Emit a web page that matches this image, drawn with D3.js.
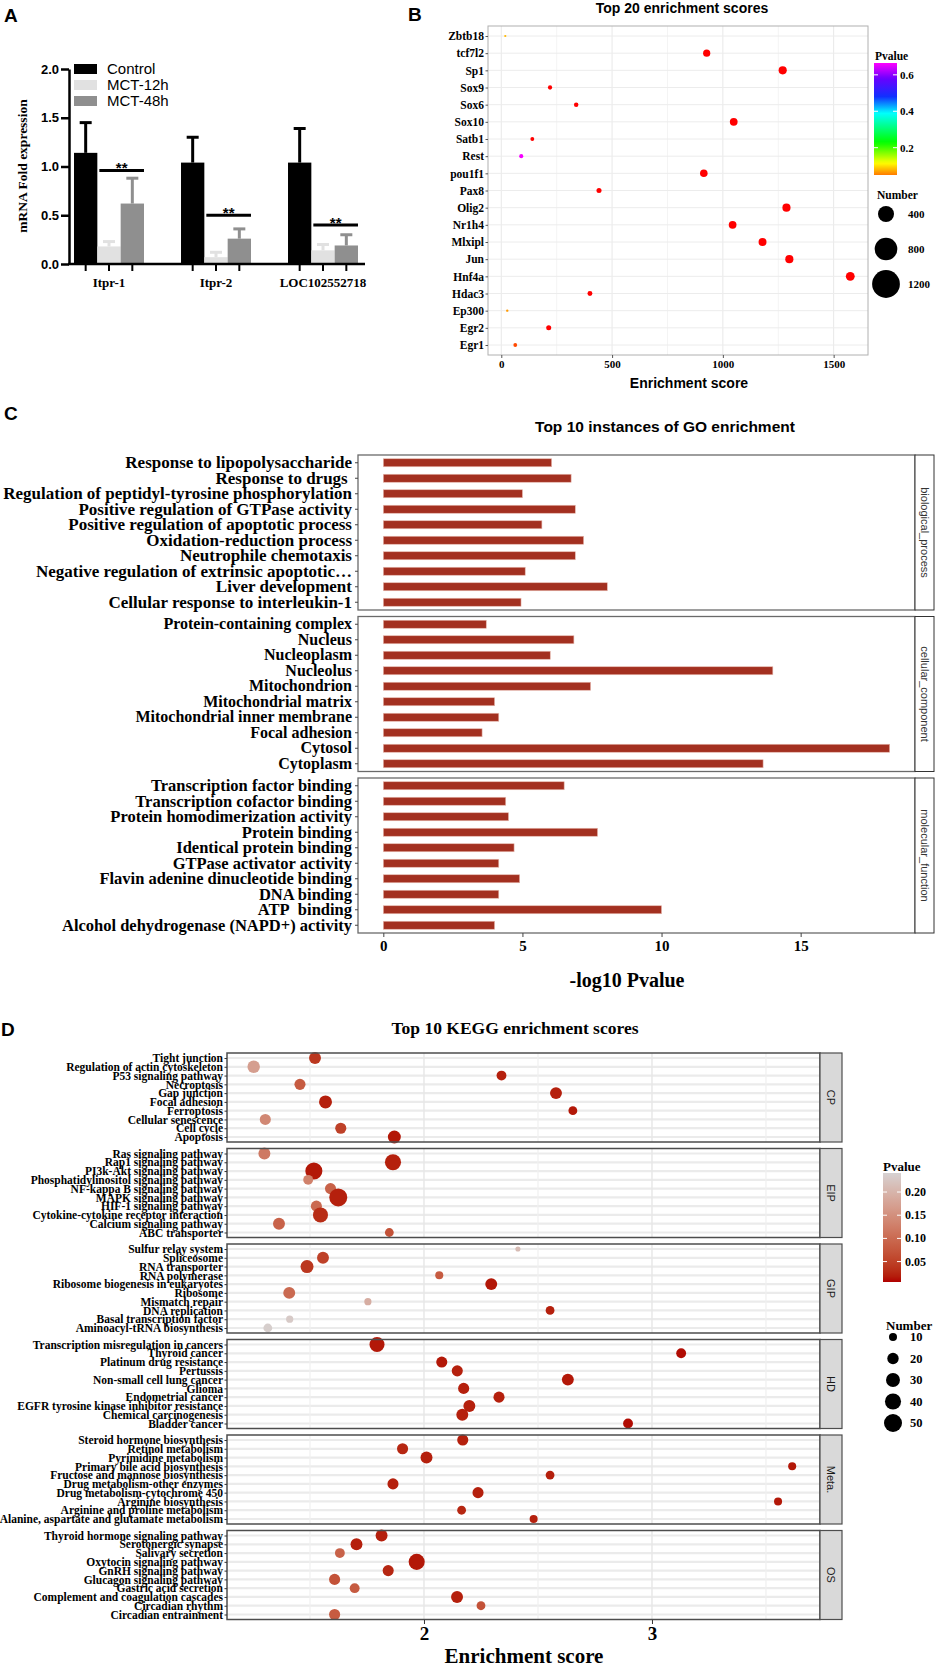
<!DOCTYPE html>
<html>
<head>
<meta charset="utf-8">
<script src="https://cdn.jsdelivr.net/npm/d3@7"></script>
<style>
  body { margin: 0; background: #fff; }
  svg { display: block; }
</style>
</head>
<body>
<svg id="fig" width="936" height="1669"></svg>
<script>
// ---------- panel A: qPCR bars
const aGenes = ["Itpr-1", "Itpr-2", "LOC102552718"];
const aGroups = ["Control", "MCT-12h", "MCT-48h"];
const aControl = [1.14, 1.04, 1.04];
const aControlSd = [0.31, 0.26, 0.35];
const a12h = [0.18, 0.07, 0.14];
const a12hSd = [0.05, 0.05, 0.06];
const a48h = [0.62, 0.26, 0.19];
const a48hSd = [0.26, 0.10, 0.11];
const aSigLevel = [0.96, 0.50, 0.40];
const aTicks = [0, 0.5, 1.0, 1.5, 2.0];

// ---------- panel B: TF enrichment
const tfNames = ["Zbtb18", "tcf7l2", "Sp1", "Sox9", "Sox6", "Sox10", "Satb1", "Rest", "pou1f1", "Pax8",
  "Olig2", "Nr1h4", "Mlxipl", "Jun", "Hnf4a", "Hdac3", "Ep300", "Egr2", "Egr1"];
const tfScore = [18, 927, 1270, 220, 338, 1049, 140, 90, 914, 441, 1287, 1044, 1179, 1300, 1575, 400, 27, 214, 63];
const tfPvalue = [0.08, 0, 0, 0, 0, 0, 0, 0.66, 0, 0, 0, 0, 0, 0, 0, 0, 0.065, 0, 0.03];
const tfNumber = [80, 850, 1100, 300, 330, 1000, 250, 280, 950, 420, 1100, 1000, 1050, 1100, 1300, 400, 90, 420, 240];
const bTicks = [0, 500, 1000, 1500];
const bMinor = [250, 750, 1250];
const bPvalTicks = [0.2, 0.4, 0.6];
const bNumberKeys = [400, 800, 1200];

// ---------- panel C: GO enrichment (-log10 P)
const goFacets = ["biological_process", "cellular_component", "molecular_function"];
const goBpTerms = ["Response to lipopolysaccharide", "Response to drugs\u00a0", "Regulation of peptidyl-tyrosine phosphorylation",
  "Positive regulation of GTPase activity", "Positive regulation of apoptotic process", "Oxidation-reduction process",
  "Neutrophile chemotaxis", "Negative regulation of extrinsic apoptotic\u2026", "Liver development", "Cellular response to interleukin-1"];
const goBpValues = [6.05, 6.75, 5.0, 6.9, 5.7, 7.2, 6.9, 5.1, 8.05, 4.95];
const goCcTerms = ["Protein-containing complex", "Nucleus", "Nucleoplasm", "Nucleolus", "Mitochondrion",
  "Mitochondrial matrix", "Mitochondrial inner membrane", "Focal adhesion", "Cytosol", "Cytoplasm"];
const goCcValues = [3.7, 6.85, 6.0, 14.0, 7.45, 4.0, 4.15, 3.55, 18.2, 13.65];
const goMfTerms = ["Transcription factor binding", "Transcription cofactor binding", "Protein homodimerization activity",
  "Protein binding", "Identical protein binding", "GTPase activator activity", "Flavin adenine dinucleotide binding",
  "DNA binding", "ATP\u00a0 binding", "Alcohol dehydrogenase (NAPD+) activity"];
const goMfValues = [6.5, 4.4, 4.5, 7.7, 4.7, 4.15, 4.9, 4.15, 10.0, 4.0];
const goTicks = [0, 5, 10, 15];

// ---------- panel D: KEGG enrichment
const keggFacets = ["CP", "EIP", "GIP", "HD", "Meta.", "OS"];
const cpTerms = ["Tight junction", "Regulation of actin cytoskeleton", "P53 signaling pathway", "Necroptosis", "Gap junction",
  "Focal adhesion", "Ferroptosis", "Cellular senescence", "Cell cycle", "Apoptosis"];
const cpScore = [1.522, 1.253, 2.340, 1.456, 2.579, 1.568, 2.653, 1.304, 1.635, 1.870];
const cpPvalue = [0.04, 0.17, 0.02, 0.08, 0.02, 0.02, 0.015, 0.14, 0.05, 0.015];
const cpCount = [22, 24, 15, 19, 22, 26, 12, 19, 19, 26];
const eipTerms = ["Ras signaling pathway", "Rap1 signaling pathway", "PI3k-Akt signaling pathway", "Phosphatidylinositol signaling pathway",
  "NF-kappa B signaling pathway", "MAPK signaling pathway", "HIF-1 signaling pathway", "Cytokine-cytokine receptor interaction",
  "Calcium signaling pathway", "ABC transporter"];
const eipScore = [1.300, 1.864, 1.517, 1.492, 1.590, 1.624, 1.528, 1.546, 1.364, 1.848];
const eipPvalue = [0.12, 0.02, 0.015, 0.13, 0.09, 0.02, 0.10, 0.03, 0.09, 0.07];
const eipCount = [22, 40, 45, 15, 19, 50, 19, 35, 22, 12];
const gipTerms = ["Sulfur relay system", "Spliceosome", "RNA transporter", "RNA polymerase", "Ribosome biogenesis in eukaryotes",
  "Ribosome", "Mismatch repair", "DNA replication", "Basal transcription factor", "Aminoacyl-tRNA biosynthesis"];
const gipScore = [2.412, 1.557, 1.487, 2.067, 2.295, 1.409, 1.754, 2.553, 1.411, 1.315];
const gipPvalue = [0.21, 0.05, 0.04, 0.08, 0.015, 0.10, 0.19, 0.02, 0.23, 0.235];
const gipCount = [4, 22, 26, 10, 22, 22, 8, 12, 8, 12];
const hdTerms = ["Transcription misregulation in cancers", "Thyroid cancer", "Platinum drug resistance", "Pertussis",
  "Non-small cell lung cancer", "Glioma", "Endometrial cancer", "EGFR tyrosine kinase inhibitor resistance",
  "Chemical carcinogenesis", "Bladder cancer"];
const hdScore = [1.794, 3.128, 2.078, 2.146, 2.631, 2.174, 2.329, 2.199, 2.168, 2.895];
const hdPvalue = [0.015, 0.01, 0.015, 0.02, 0.015, 0.02, 0.02, 0.02, 0.02, 0.01];
const hdCount = [35, 15, 19, 19, 22, 19, 19, 22, 22, 15];
const metaTerms = ["Steroid hormone biosynthesis", "Retinol metabolism", "Pyrimidine  metabolism", "Primary bile acid biosynthesis",
  "Fructose and mannose biosynthesis", "Drug metabolism-other enzymes", "Drug metabolism-cytochrome 450", "Arginine biosynthesis",
  "Arginine and proline metabolism", "Alanine, aspartate and glutamate metabolism"];
const metaScore = [2.170, 1.906, 2.011, 3.615, 2.553, 1.864, 2.237, 3.553, 2.165, 2.481];
const metaPvalue = [0.02, 0.025, 0.02, 0.015, 0.02, 0.02, 0.02, 0.015, 0.025, 0.02];
const metaCount = [19, 19, 22, 10, 12, 19, 19, 10, 12, 10];
const osTerms = ["Thyroid hormone signaling pathway", "Serotonergic synapse", "Salivary secretion", "Oxytocin signaling pathway",
  "GnRH signaling pathway", "Glucagon signaling pathway", "Gastric acid secretion", "Complement and coagulation cascades",
  "Circadian rhythm", "Circadian entrainment"];
const osScore = [1.814, 1.704, 1.631, 1.968, 1.843, 1.608, 1.696, 2.145, 2.250, 1.608];
const osPvalue = [0.02, 0.02, 0.09, 0.015, 0.025, 0.07, 0.08, 0.02, 0.07, 0.08];
const osCount = [22, 22, 15, 40, 19, 19, 15, 22, 12, 19];
const dTicks = [2, 3];
const dMinor = [1.5, 2.5, 3.5];
const dPvalTicks = [0.05, 0.10, 0.15, 0.20];
const dCountKeys = [10, 20, 30, 40, 50];

const SERIF = '"Liberation Serif","Times New Roman",serif';
const SANS = '"Liberation Sans",Arial,sans-serif';
const svg = d3.select("#fig");
const defs = svg.append("defs");

function panelLetter(txt, x, y) {
  svg.append("text").attr("x", x).attr("y", y).text(txt)
    .attr("font-family", SANS).attr("font-weight", "bold").attr("font-size", 19);
}
function styleTicks(g, family, size, weight) {
  g.selectAll("text").attr("font-family", family).attr("font-size", size)
    .attr("font-weight", weight || "bold").attr("fill", "#000");
}

// =============== A ===============
panelLetter("A", 4, 22);
const gA = svg.append("g");
const aY = d3.scaleLinear().domain([0, 2]).range([264, 69]);
const aX = d3.scaleBand().domain(aGenes).range([55.5, 376.5]).paddingInner(0.346).paddingOuter(0.173);
const aSub = d3.scaleBand().domain(aGroups).range([0, aX.bandwidth()]);
const aFill = d3.scaleOrdinal().domain(aGroups).range(["#000000", "#e1e1e1", "#8f8f8f"]);

const aBars = [];
aGenes.forEach((g, i) => {
  aBars.push({gene: g, grp: "Control", v: aControl[i], sd: aControlSd[i]});
  aBars.push({gene: g, grp: "MCT-12h", v: a12h[i], sd: a12hSd[i]});
  aBars.push({gene: g, grp: "MCT-48h", v: a48h[i], sd: a48hSd[i]});
});
const aCx = d => aX(d.gene) + aSub(d.grp) + aSub.bandwidth() / 2;

gA.selectAll("line.err").data(aBars).join("line").attr("class", "err")
  .attr("x1", aCx).attr("x2", aCx)
  .attr("y1", d => aY(d.v)).attr("y2", d => aY(d.v + d.sd))
  .attr("stroke", d => aFill(d.grp)).attr("stroke-width", 3);
gA.selectAll("line.cap").data(aBars).join("line").attr("class", "cap")
  .attr("x1", d => aCx(d) - 6).attr("x2", d => aCx(d) + 6)
  .attr("y1", d => aY(d.v + d.sd)).attr("y2", d => aY(d.v + d.sd))
  .attr("stroke", d => aFill(d.grp)).attr("stroke-width", 3);
gA.selectAll("rect.bar").data(aBars).join("rect").attr("class", "bar")
  .attr("x", d => aX(d.gene) + aSub(d.grp)).attr("width", aSub.bandwidth())
  .attr("y", d => aY(d.v)).attr("height", d => aY(0) - aY(d.v))
  .attr("fill", d => aFill(d.grp));

// significance bars
gA.selectAll("line.sig").data(aGenes).join("line").attr("class", "sig")
  .attr("x1", g => aX(g) + aSub("MCT-12h") + 2)
  .attr("x2", g => aX(g) + aSub("MCT-48h") + aSub.bandwidth())
  .attr("y1", (g, i) => aY(aSigLevel[i])).attr("y2", (g, i) => aY(aSigLevel[i]))
  .attr("stroke", "#000").attr("stroke-width", 3);
gA.selectAll("text.sig").data(aGenes).join("text").attr("class", "sig")
  .attr("x", g => aX(g) + aSub("MCT-48h") + 1)
  .attr("y", (g, i) => aY(aSigLevel[i]) + 3)
  .attr("text-anchor", "middle").attr("font-family", SANS).attr("font-weight", "bold")
  .attr("font-size", 15).text("**");

// axes
gA.append("g").attr("transform", "translate(69,0)")
  .call(d3.axisLeft(aY).tickValues(aTicks).tickFormat(d3.format(".1f")).tickSize(8).tickSizeOuter(0).tickPadding(2))
  .call(g => {
    g.select(".domain").attr("stroke-width", 2.5);
    g.selectAll(".tick line").attr("stroke-width", 2.5);
    styleTicks(g, SANS, 13);
  });
gA.append("line").attr("x1", 68).attr("x2", 365).attr("y1", aY(0)).attr("y2", aY(0))
  .attr("stroke", "#000").attr("stroke-width", 2.5);
gA.selectAll("line.xt").data(aBars).join("line").attr("class", "xt")
  .attr("x1", aCx).attr("x2", aCx).attr("y1", aY(0)).attr("y2", aY(0) + 7)
  .attr("stroke", "#000").attr("stroke-width", 2);
gA.selectAll("text.xl").data(aGenes).join("text").attr("class", "xl")
  .attr("x", g => aX(g) + aX.bandwidth() / 2).attr("y", 287)
  .attr("text-anchor", "middle").attr("font-family", SERIF).attr("font-weight", "bold")
  .attr("font-size", 13).text(g => g);
gA.append("text").attr("transform", "translate(27,166) rotate(-90)")
  .attr("text-anchor", "middle").attr("font-family", SERIF).attr("font-weight", "bold")
  .attr("font-size", 13.5).text("mRNA Fold expression");

// legend
const aLeg = gA.selectAll("g.leg").data(aGroups).join("g").attr("class", "leg")
  .attr("transform", (d, i) => `translate(74,${69 + i * 16})`);
aLeg.append("rect").attr("x", 0).attr("y", -5).attr("width", 23).attr("height", 10).attr("fill", d => aFill(d));
aLeg.append("text").attr("x", 33).attr("y", 5).attr("font-family", SANS).attr("font-size", 15).text(d => d);

// =============== B ===============
panelLetter("B", 408, 21);
const gB = svg.append("g");
const bX = d3.scaleLinear().domain([-60, 1655]).range([488, 868]);
const bY = d3.scalePoint().domain(tfNames).range([36, 345]);
const bR = d3.scaleSqrt().domain([0, 1400]).range([0, 4.6]);
const bColor = d3.scaleLinear()
  .domain([0, 0.05, 0.115, 0.23, 0.39, 0.48, 0.58, 0.665])
  .range(["#ff0000", "#ff7a00", "#ffff00", "#00ff00", "#00ffff", "#1030ff", "#6a00ff", "#ff00ff"]);

gB.append("text").attr("x", 682).attr("y", 13).attr("text-anchor", "middle")
  .attr("font-family", SANS).attr("font-weight", "bold").attr("font-size", 14)
  .text("Top 20 enrichment scores");
gB.selectAll("line.bmin").data(bMinor).join("line").attr("class", "bmin")
  .attr("x1", d => bX(d)).attr("x2", d => bX(d)).attr("y1", 26).attr("y2", 355)
  .attr("stroke", "#f4f4f4").attr("stroke-width", 1);
gB.selectAll("line.bmaj").data(bTicks).join("line").attr("class", "bmaj")
  .attr("x1", d => bX(d)).attr("x2", d => bX(d)).attr("y1", 26).attr("y2", 355)
  .attr("stroke", "#e8e8e8").attr("stroke-width", 1);
gB.selectAll("line.brow").data(tfNames).join("line").attr("class", "brow")
  .attr("x1", 488).attr("x2", 868).attr("y1", d => bY(d)).attr("y2", d => bY(d))
  .attr("stroke", "#ececec").attr("stroke-width", 1);
gB.selectAll("circle.tf").data(tfNames).join("circle").attr("class", "tf")
  .attr("cx", (d, i) => bX(tfScore[i])).attr("cy", d => bY(d))
  .attr("r", (d, i) => bR(tfNumber[i])).attr("fill", (d, i) => bColor(tfPvalue[i]));
gB.append("rect").attr("x", 488).attr("y", 26).attr("width", 380).attr("height", 329)
  .attr("fill", "none").attr("stroke", "#b0b0b0").attr("stroke-width", 1);
gB.append("g").attr("transform", "translate(0,355)")
  .call(d3.axisBottom(bX).tickValues(bTicks).tickFormat(d3.format("d")).tickSize(3).tickPadding(2))
  .call(g => { g.select(".domain").remove(); g.selectAll(".tick line").attr("stroke", "#555"); styleTicks(g, SERIF, 11); });
gB.append("g").attr("transform", "translate(488,0)")
  .call(d3.axisLeft(bY).tickSize(2.5).tickPadding(1.5))
  .call(g => { g.select(".domain").remove(); g.selectAll(".tick line").attr("stroke", "#555"); styleTicks(g, SERIF, 11.5); });
gB.append("text").attr("x", 689).attr("y", 388).attr("text-anchor", "middle")
  .attr("font-family", SANS).attr("font-weight", "bold").attr("font-size", 14).text("Enrichment score");

// Pvalue colour bar
const cbB = d3.scaleLinear().domain([0.05, 0.665]).range([175, 63]);
const gradB = defs.append("linearGradient").attr("id", "gradB")
  .attr("x1", 0).attr("y1", 1).attr("x2", 0).attr("y2", 0);
gradB.selectAll("stop").data(d3.range(0, 1.0001, 0.025)).join("stop")
  .attr("offset", t => t).attr("stop-color", t => bColor(0.05 + t * 0.615));
gB.append("text").attr("x", 875).attr("y", 60).attr("font-family", SERIF).attr("font-weight", "bold")
  .attr("font-size", 11.5).text("Pvalue");
gB.append("rect").attr("x", 874).attr("y", 63).attr("width", 23).attr("height", 112).attr("fill", "url(#gradB)");
gB.selectAll("line.cbt").data(bPvalTicks.flatMap(v => [[v, 874], [v, 893]])).join("line").attr("class", "cbt")
  .attr("x1", d => d[1]).attr("x2", d => d[1] + 4).attr("y1", d => cbB(d[0])).attr("y2", d => cbB(d[0]))
  .attr("stroke", "#fff").attr("stroke-width", 1);
gB.selectAll("text.cbl").data(bPvalTicks).join("text").attr("class", "cbl")
  .attr("x", 900).attr("y", d => cbB(d) + 4).attr("font-family", SERIF).attr("font-weight", "bold")
  .attr("font-size", 11).text(d => d.toFixed(1));

// Number legend
const bLegR = d3.scaleSqrt().domain([0, 1400]).range([0, 15]);
gB.append("text").attr("x", 877).attr("y", 199).attr("font-family", SERIF).attr("font-weight", "bold")
  .attr("font-size", 11.5).text("Number");
gB.selectAll("circle.nk").data(bNumberKeys).join("circle").attr("class", "nk")
  .attr("cx", 886).attr("cy", (d, i) => 214 + i * 35).attr("r", d => bLegR(d)).attr("fill", "#000");
gB.selectAll("text.nk").data(bNumberKeys).join("text").attr("class", "nk")
  .attr("x", 908).attr("y", (d, i) => 218 + i * 35).attr("font-family", SERIF).attr("font-weight", "bold")
  .attr("font-size", 11).text(d => d);

// =============== C ===============
panelLetter("C", 4, 420);
const gC = svg.append("g");
const goX = d3.scaleLinear().domain([-0.91, 19.11]).range([358, 915]);
const goSets = [[goBpTerms, goBpValues], [goCcTerms, goCcValues], [goMfTerms, goMfValues]];
const goFont = [17, 16, 16.5];
gC.append("text").attr("x", 665).attr("y", 432).attr("text-anchor", "middle")
  .attr("font-family", SANS).attr("font-weight", "bold").attr("font-size", 15.5)
  .text("Top 10 instances of GO enrichment");

goFacets.forEach((facet, k) => {
  const top = 455 + k * 161.5, h = 155;
  const terms = goSets[k][0], vals = goSets[k][1];
  const yb = d3.scaleBand().domain(terms).range([top, top + h]).paddingInner(0.484).paddingOuter(0.242);
  const g = gC.append("g");
  g.selectAll("rect.go").data(terms).join("rect").attr("class", "go")
    .attr("x", goX(0)).attr("y", d => yb(d)).attr("height", yb.bandwidth())
    .attr("width", (d, i) => goX(vals[i]) - goX(0))
    .attr("fill", "#a33020").attr("stroke", "#e6b8ae").attr("stroke-width", 0.6);
  g.append("rect").attr("x", 358).attr("y", top).attr("width", 557).attr("height", h)
    .attr("fill", "none").attr("stroke", "#6a6a6a").attr("stroke-width", 1.3);
  g.append("rect").attr("x", 915).attr("y", top).attr("width", 19).attr("height", h)
    .attr("fill", "#fff").attr("stroke", "#333").attr("stroke-width", 1);
  g.append("text").attr("transform", `translate(921,${top + h / 2}) rotate(90)`)
    .attr("text-anchor", "middle").attr("font-family", SANS).attr("font-size", 11).attr("fill", "#333")
    .text(facet);
  g.append("g").attr("transform", "translate(358,0)")
    .call(d3.axisLeft(yb).tickSize(3).tickPadding(3))
    .call(a => { a.select(".domain").remove(); a.selectAll(".tick line").attr("stroke", "#444"); styleTicks(a, SERIF, goFont[k]); });
});
gC.append("g").attr("transform", "translate(0,933)")
  .call(d3.axisBottom(goX).tickValues(goTicks).tickSize(4).tickPadding(3))
  .call(a => { a.select(".domain").remove(); a.selectAll(".tick line").attr("stroke", "#444"); styleTicks(a, SERIF, 15); });
gC.append("text").attr("x", 627).attr("y", 987).attr("text-anchor", "middle")
  .attr("font-family", SERIF).attr("font-weight", "bold").attr("font-size", 20).text("-log10 Pvalue");

// =============== D ===============
panelLetter("D", 1, 1036);
const gD = svg.append("g");
const dX = d3.scaleLinear().domain([1.136, 3.737]).range([227, 820]);
const dR = d3.scaleSqrt().domain([0, 50]).range([0, 9]);
const dColor = d3.scaleLinear().domain([0.006, 0.241]).range(["#b00000", "#d6d2d2"]).interpolate(d3.interpolateLab);
const dSets = [
  [cpTerms, cpScore, cpPvalue, cpCount], [eipTerms, eipScore, eipPvalue, eipCount],
  [gipTerms, gipScore, gipPvalue, gipCount], [hdTerms, hdScore, hdPvalue, hdCount],
  [metaTerms, metaScore, metaPvalue, metaCount], [osTerms, osScore, osPvalue, osCount]];
gD.append("text").attr("x", 515).attr("y", 1034).attr("text-anchor", "middle")
  .attr("font-family", SERIF).attr("font-weight", "bold").attr("font-size", 17.5)
  .text("Top 10 KEGG enrichment scores");

keggFacets.forEach((facet, k) => {
  const top = 1053 + k * 95.5, h = 89;
  const [terms, score, pv, cnt] = dSets[k];
  const yp = d3.scalePoint().domain(terms).range([top + 5, top + 84]);
  const g = gD.append("g");
  g.selectAll("line.drow").data(terms).join("line").attr("class", "drow")
    .attr("x1", 227).attr("x2", 820).attr("y1", d => yp(d)).attr("y2", d => yp(d))
    .attr("stroke", "#ebebeb").attr("stroke-width", 2.2);
  g.selectAll("line.dmin").data(dMinor).join("line").attr("class", "dmin")
    .attr("x1", d => dX(d)).attr("x2", d => dX(d)).attr("y1", top).attr("y2", top + h)
    .attr("stroke", "#f0f0f0").attr("stroke-width", 1.2);
  g.selectAll("line.dmaj").data(dTicks).join("line").attr("class", "dmaj")
    .attr("x1", d => dX(d)).attr("x2", d => dX(d)).attr("y1", top).attr("y2", top + h)
    .attr("stroke", "#e6e6e6").attr("stroke-width", 1.4);
  g.selectAll("circle.kg").data(terms).join("circle").attr("class", "kg")
    .attr("cx", (d, i) => dX(score[i])).attr("cy", d => yp(d))
    .attr("r", (d, i) => dR(cnt[i])).attr("fill", (d, i) => dColor(pv[i]));
  g.append("rect").attr("x", 227).attr("y", top).attr("width", 593).attr("height", h)
    .attr("fill", "none").attr("stroke", "#4d4d4d").attr("stroke-width", 1.5);
  g.append("rect").attr("x", 820).attr("y", top).attr("width", 22).attr("height", h)
    .attr("fill", "#d9d9d9").attr("stroke", "#4d4d4d").attr("stroke-width", 1.2);
  g.append("text").attr("transform", `translate(827,${top + h / 2}) rotate(90)`)
    .attr("text-anchor", "middle").attr("font-family", SANS).attr("font-size", 11).attr("fill", "#1a1a1a")
    .text(facet);
  g.append("g").attr("transform", "translate(227,0)")
    .call(d3.axisLeft(yp).tickSize(2.5).tickPadding(1.5))
    .call(a => {
      a.select(".domain").remove();
      a.selectAll(".tick line").attr("stroke", "#333");
      styleTicks(a, SERIF, 11.5);
    });
});
gD.append("g").attr("transform", "translate(0,1620)")
  .call(d3.axisBottom(dX).tickValues(dTicks).tickFormat(d3.format("d")).tickSize(4).tickPadding(3))
  .call(a => { a.select(".domain").remove(); a.selectAll(".tick line").attr("stroke", "#333"); styleTicks(a, SERIF, 19); });
gD.append("text").attr("x", 524).attr("y", 1663).attr("text-anchor", "middle")
  .attr("font-family", SERIF).attr("font-weight", "bold").attr("font-size", 21).text("Enrichment score");

// Pvalue colour bar
const cbD = d3.scaleLinear().domain([0.006, 0.241]).range([1282, 1173]);
const gradD = defs.append("linearGradient").attr("id", "gradD")
  .attr("x1", 0).attr("y1", 1).attr("x2", 0).attr("y2", 0);
gradD.selectAll("stop").data(d3.range(0, 1.0001, 0.05)).join("stop")
  .attr("offset", t => t).attr("stop-color", t => dColor(0.006 + t * 0.235));
gD.append("text").attr("x", 883).attr("y", 1171).attr("font-family", SERIF).attr("font-weight", "bold")
  .attr("font-size", 13).text("Pvalue");
gD.append("rect").attr("x", 883).attr("y", 1173).attr("width", 18).attr("height", 109).attr("fill", "url(#gradD)");
gD.selectAll("line.cbt").data(dPvalTicks.flatMap(v => [[v, 883], [v, 897]])).join("line").attr("class", "cbt")
  .attr("x1", d => d[1]).attr("x2", d => d[1] + 4).attr("y1", d => cbD(d[0])).attr("y2", d => cbD(d[0]))
  .attr("stroke", "#fff").attr("stroke-width", 1);
gD.selectAll("text.cbl").data(dPvalTicks).join("text").attr("class", "cbl")
  .attr("x", 905).attr("y", d => cbD(d) + 4).attr("font-family", SERIF).attr("font-weight", "bold")
  .attr("font-size", 12).text(d => d.toFixed(2));

// Number legend
gD.append("text").attr("x", 886).attr("y", 1330).attr("font-family", SERIF).attr("font-weight", "bold")
  .attr("font-size", 13).text("Number");
const dKeyY = d3.scalePoint().domain(dCountKeys).range([1337, 1423]);
gD.selectAll("circle.nk").data(dCountKeys).join("circle").attr("class", "nk")
  .attr("cx", 893).attr("cy", d => dKeyY(d)).attr("r", d => dR(d)).attr("fill", "#000");
gD.selectAll("text.nk").data(dCountKeys).join("text").attr("class", "nk")
  .attr("x", 910).attr("y", d => dKeyY(d) + 4).attr("font-family", SERIF).attr("font-weight", "bold")
  .attr("font-size", 12.5).text(d => d);
</script>
</body>
</html>
